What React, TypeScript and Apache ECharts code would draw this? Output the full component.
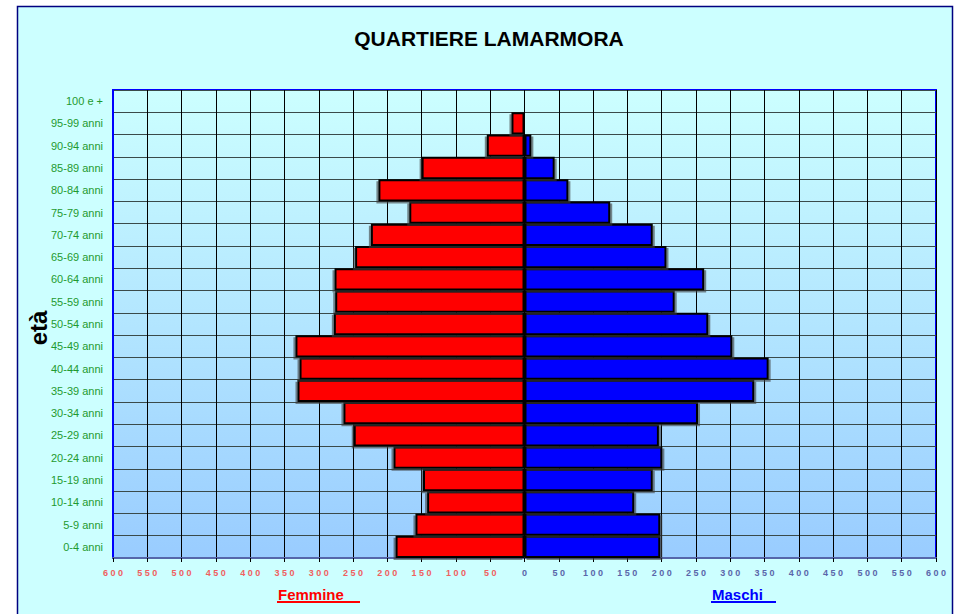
import React, { useEffect, useRef } from "react";
import * as echarts from "echarts";

const categories = [
  "0-4 anni", "5-9 anni", "10-14 anni", "15-19 anni", "20-24 anni", "25-29 anni",
  "30-34 anni", "35-39 anni", "40-44 anni", "45-49 anni", "50-54 anni", "55-59 anni",
  "60-64 anni", "65-69 anni", "70-74 anni", "75-79 anni", "80-84 anni", "85-89 anni",
  "90-94 anni", "95-99 anni", "100 e +",
];
const femmine = [188, 159, 142, 148, 191, 249, 264, 331, 328, 334, 278, 276, 277, 247, 224, 168, 213, 150, 55, 19, 2];
const maschi = [198, 198, 160, 187, 201, 196, 253, 335, 356, 303, 268, 219, 262, 207, 187, 125, 64, 44, 10, 1, 1];
const xTicks = { min: -600, max: 600, interval: 50 };

export default function App() {
  const ref = useRef<HTMLDivElement>(null);
  useEffect(() => {
    const chart = echarts.init(ref.current!, null, { renderer: "svg" });
    const font = "'Liberation Sans', Arial, sans-serif";
    chart.setOption({
      animation: false,
      backgroundColor: "#ffffff",
      graphic: [
        {
          type: "rect",
          z: -10,
          shape: { x: 17.5, y: 6.5, width: 935, height: 640 },
          style: { fill: "#ccffff", stroke: "#000080", lineWidth: 1.5 },
        },
        {
          type: "text",
          x: 489,
          y: 38,
          style: {
            text: "QUARTIERE LAMARMORA",
            fill: "#000000",
            font: `bold 21px 'Liberation Sans Narrow', ${font}`,
            align: "center",
            verticalAlign: "middle",
          },
        },
        {
          type: "text",
          x: 38,
          y: 328,
          rotation: Math.PI / 2,
          style: {
            text: "età",
            fill: "#000000",
            font: `bold 24px ${font}`,
            align: "center",
            verticalAlign: "middle",
          },
        },
        {
          type: "text",
          x: 278,
          y: 594,
          style: {
            text: "Femmine",
            fill: "#ff0000",
            font: `bold 15px ${font}`,
            align: "left",
            verticalAlign: "middle",
          },
        },
        {
          type: "line",
          shape: { x1: 277, y1: 602, x2: 360, y2: 602 },
          style: { stroke: "#ff0000", lineWidth: 2 },
        },
        {
          type: "text",
          x: 712,
          y: 594,
          style: {
            text: "Maschi",
            fill: "#0000ff",
            font: `bold 15px ${font}`,
            align: "left",
            verticalAlign: "middle",
          },
        },
        {
          type: "line",
          shape: { x1: 711, y1: 602, x2: 776, y2: 602 },
          style: { stroke: "#0000ff", lineWidth: 2 },
        },
      ],
      grid: {
        left: 113,
        right: 28,
        top: 90,
        bottom: 56,
        show: true,
        borderColor: "#0000ff",
        borderWidth: 2,
        backgroundColor: new echarts.graphic.LinearGradient(0, 0, 0, 1, [
          { offset: 0, color: "#ccffff" },
          { offset: 1, color: "#99ccff" },
        ]),
      },
      xAxis: {
        type: "value",
        min: xTicks.min,
        max: xTicks.max,
        interval: xTicks.interval,
        axisLine: { show: true, onZero: false, lineStyle: { color: "#5566aa", width: 2 } },
        axisTick: { show: true, length: 4, lineStyle: { color: "#000000" } },
        splitLine: { show: true, lineStyle: { color: "#000000", width: 1 } },
        axisLabel: {
          margin: 10,
          fontSize: 9,
          fontFamily: font,
          fontWeight: "bold",
          formatter: (v: number) => String(Math.abs(v)).split("").join(" "),
          color: (v: any) => (Number(v) < 0 ? "#f06060" : "#5a66aa"),
        },
      },
      yAxis: {
        type: "category",
        data: categories,
        axisLine: { show: true, onZero: false, lineStyle: { color: "#0000ff", width: 2 } },
        axisTick: { show: false },
        splitLine: { show: true, lineStyle: { color: "#3a4a4a", width: 1 } },
        axisLabel: {
          margin: 10,
          fontSize: 11,
          fontFamily: `'Liberation Sans Narrow', ${font}`,
          color: "#1f9a2f",
        },
      },
      series: [
        {
          name: "Femmine",
          type: "bar",
          stack: "pop",
          barCategoryGap: "0%",
          data: femmine.map((v) => -v),
          itemStyle: {
            color: "#ff0000",
            borderColor: "#000000",
            borderWidth: 2,
            shadowColor: "rgba(60,60,60,0.6)",
            shadowOffsetX: -2,
            shadowOffsetY: 2,
            shadowBlur: 1,
          },
        },
        {
          name: "Maschi",
          type: "bar",
          stack: "pop",
          barCategoryGap: "0%",
          data: maschi,
          itemStyle: {
            color: "#0000ff",
            borderColor: "#000000",
            borderWidth: 2,
            shadowColor: "rgba(60,60,60,0.6)",
            shadowOffsetX: 2,
            shadowOffsetY: 2,
            shadowBlur: 1,
          },
        },
      ],
    });
    return () => chart.dispose();
  }, []);
  return (
    <div
      ref={ref}
      style={{ position: "fixed", left: 0, top: 0, width: 964, height: 614 }}
    />
  );
}
